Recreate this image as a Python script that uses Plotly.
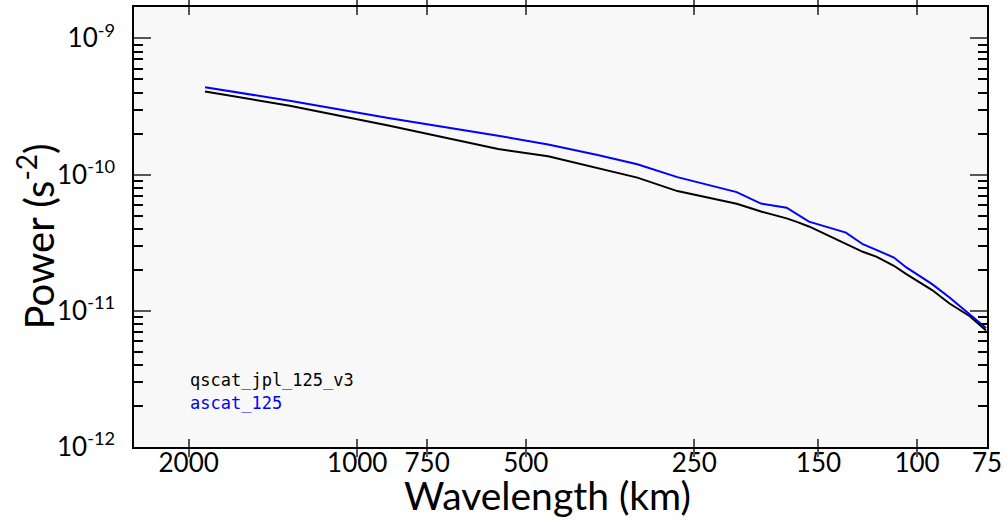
import math
import plotly.graph_objects as go

# Wavelength samples (km)
wavelength = [1870, 1320, 880, 560, 456, 372, 316, 268, 210, 190, 171, 164, 156,
              134, 125, 118, 110, 104.5, 94, 87.5, 80.5, 75.3]

# Power spectra (s^-2)
qscat_jpl_125_v3 = [4.07e-10, 3.20e-10, 2.29e-10, 1.54e-10, 1.364e-10, 1.12e-10,
                    9.49e-11, 7.56e-11, 6.10e-11, 5.35e-11, 4.77e-11, 4.49e-11,
                    4.16e-11, 3.10e-11, 2.71e-11, 2.49e-11, 2.14e-11, 1.86e-11,
                    1.42e-11, 1.13e-11, 9.12e-12, 7.15e-12]
ascat_125 = [4.38e-10, 3.48e-10, 2.60e-10, 1.93e-10, 1.66e-10, 1.39e-10,
             1.19e-10, 9.57e-11, 7.43e-11, 6.12e-11, 5.71e-11, 5.10e-11,
             4.51e-11, 3.75e-11, 3.08e-11, 2.79e-11, 2.46e-11, 2.08e-11,
             1.57e-11, 1.25e-11, 9.47e-12, 7.48e-12]

x_tickvals = [2000, 1000, 750, 500, 250, 150, 100, 75]
x_ticktext = ["2000", "1000", "750", "500", "250", "150", "100", "75"]
y_major_vals = [1e-9, 1e-10, 1e-11, 1e-12]
y_major_text = ["10<sup>-9</sup>", "10<sup>-10</sup>", "10<sup>-11</sup>", "10<sup>-12</sup>"]
y_minor_vals = [k * 10.0 ** e for e in (-12, -11, -10) for k in range(2, 10)]

FONT = "Lato"
Y_RANGE = [-12, -8.770]   # log10 units

fig = go.Figure()
fig.add_trace(go.Scatter(x=wavelength, y=qscat_jpl_125_v3, mode="lines",
                         line=dict(color="black", width=2), name="qscat_jpl_125_v3",
                         showlegend=False))
# second series drawn on an overlaid linear axis in log10 units (same mapping),
# which carries the minor ticks
fig.add_trace(go.Scatter(x=wavelength, y=[math.log10(v) for v in ascat_125],
                         mode="lines", yaxis="y2",
                         line=dict(color="#0000ff", width=2), name="ascat_125",
                         showlegend=False))

fig.add_annotation(x=0.063, y=0.153, xref="paper", yref="paper", xanchor="left",
                   yanchor="middle", showarrow=False, text="qscat_jpl_125_v3",
                   font=dict(family="DejaVu Sans Mono", size=17, color="black"))
fig.add_annotation(x=0.063, y=0.1, xref="paper", yref="paper", xanchor="left",
                   yanchor="middle", showarrow=False, text="ascat_125",
                   font=dict(family="DejaVu Sans Mono", size=17, color="#0000ff"))

# Axis titles
fig.add_annotation(x=0.4843, y=-0.108, xref="paper", yref="paper", xanchor="center",
                   yanchor="middle", showarrow=False, text="Wavelength (km)",
                   font=dict(family=FONT, size=39, color="black"))
fig.add_annotation(x=-0.1144, y=0.4796, xref="paper", yref="paper", xanchor="center",
                   yanchor="middle", showarrow=False, text="Power (s<sup>-2</sup>)",
                   textangle=-90, font=dict(family=FONT, size=40, color="black"))

fig.update_layout(
    width=1007, height=520,
    margin=dict(l=134, r=16, t=5, b=73),
    paper_bgcolor="white",
    plot_bgcolor="#f8f8f8",
    font=dict(family=FONT, color="black"),
    xaxis=dict(
        type="log", range=[3.3987, 1.8751],
        tickmode="array", tickvals=x_tickvals, ticktext=x_ticktext,
        ticks="inside", ticklen=8, tickwidth=1.5, tickcolor="#555555",
        tickfont=dict(size=26, family=FONT, color="black"),
        ticklabelstandoff=-8,
        showline=True, linecolor="black", linewidth=1.5, mirror="allticks",
        showgrid=False, zeroline=False,
    ),
    yaxis=dict(
        type="log", range=Y_RANGE,
        tickmode="array", tickvals=y_major_vals, ticktext=y_major_text,
        ticks="inside", ticklen=17, tickwidth=1.5, tickcolor="#555555",
        tickfont=dict(size=26, family=FONT, color="black"),
        ticklabelstandoff=12,
        showline=True, linecolor="black", linewidth=1.5, mirror="allticks",
        showgrid=False, zeroline=False,
    ),
    yaxis2=dict(
        type="linear", range=Y_RANGE, overlaying="y", side="left",
        tickmode="array", tickvals=[math.log10(v) for v in y_minor_vals],
        showticklabels=False,
        ticks="inside", ticklen=9, tickwidth=1.5, tickcolor="black",
        showline=True, linecolor="black", linewidth=1.5, mirror="allticks",
        showgrid=False, zeroline=False,
    ),
)

fig.write_html("out.html")
